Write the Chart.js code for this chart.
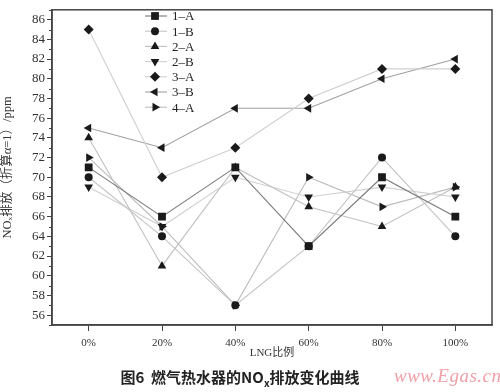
<!DOCTYPE html>
<html>
<head>
<meta charset="utf-8">
<script src="https://cdn.jsdelivr.net/npm/chart.js@4/dist/chart.umd.min.js"></script>
<style>
  body { margin: 0; background: #fff; }
  #wrap { position: relative; width: 500px; height: 392px; }
  #caption { position: absolute; left: 0; width: 480px; top: 366px; text-align: center;
    font: bold 15px "Noto Sans CJK SC", "Noto Sans", sans-serif; color: #222; }
  #caption sub { font-size: 10px; }
  #mark { position: absolute; left: 394px; top: 365px; font: italic 19px "Liberation Serif", serif;
    color: #f0a0a8; letter-spacing: 0.5px; }
</style>
</head>
<body>
<div id="wrap">
  <canvas id="chart" width="500" height="392"></canvas>
  <div id="caption">图6&nbsp; 燃气热水器的NO<sub>x</sub>排放变化曲线</div>
  <div id="mark">www.Egas.cn</div>
</div>
<script>
const labels = ['0%', '20%', '40%', '60%', '80%', '100%']

const s1A = [71, 66, 71, 63, 70, 66]
const s1B = [70, 64, 57, 63, 72, 64]
const s2A = [74, 61, 71, 67, 65, 69]
const s2B = [69, 65, 70, 68, 69, 68]
const s3A = [85, 70, 73, 78, 81, 81]
const s3B = [75, 73, 77, 77, 80, 82]
const s4A = [72, 65, 57, 70, 67, 69]

const yTicks = [56, 58, 60, 62, 64, 66, 68, 70, 72, 74, 76, 78, 80, 82, 84, 86]

const serif = '"Liberation Serif", "Noto Sans CJK SC", serif'

function series(label, data, color, pointStyle, rotation, radius) {
    return {
        label, data,
        borderColor: color,
        borderWidth: 1.1,
        backgroundColor: '#1a1a1a',
        pointBackgroundColor: '#1a1a1a',
        pointBorderColor: '#1a1a1a',
        pointBorderWidth: 0,
        pointStyle,
        pointRotation: rotation,
        pointRadius: radius,
        tension: 0
    }
}

const datasets = [
    series('1–A', s1A, '#7a7a7a', 'rect', 0, 5.5),
    series('1–B', s1B, '#c4c4c4', 'circle', 0, 4),
    series('2–A', s2A, '#c0c0c0', 'triangle', 0, 5),
    series('2–B', s2B, '#d0d0d0', 'triangle', 180, 5),
    series('3–A', s3A, '#cfcfcf', 'rectRot', 0, 5),
    series('3–B', s3B, '#a0a0a0', 'triangle', 270, 5),
    series('4–A', s4A, '#bcbcbc', 'triangle', 90, 5)
]

// frame, minor ticks and the inside legend
const extras = {
    id: 'extras',
    afterDraw(chart) {
        const { ctx, chartArea: a, scales } = chart
        ctx.save()
        ctx.strokeStyle = '#444'
        ctx.lineWidth = 1.5
        ctx.strokeRect(a.left, a.top, a.right - a.left, a.bottom - a.top)

        ctx.lineWidth = 1
        ctx.beginPath()
        for (let v = 55; v <= 87; v++) {
            if (v % 2 === 0) continue
            const y = Math.round(scales.y.getPixelForValue(v)) + 0.5
            ctx.moveTo(a.left - 3, y)
            ctx.lineTo(a.left, y)
        }
        ctx.stroke()

        // legend
        const lx = 145, ly = 16, step = 15.2
        chart.data.datasets.forEach((ds, i) => {
            const y = ly + i * step
            ctx.strokeStyle = ds.borderColor
            ctx.lineWidth = 1.1
            ctx.beginPath()
            ctx.moveTo(lx, y)
            ctx.lineTo(lx + 22, y)
            ctx.stroke()
            ctx.fillStyle = '#1a1a1a'
            ctx.strokeStyle = '#1a1a1a'
            Chart.helpers.drawPoint(ctx, {
                pointStyle: ds.pointStyle,
                radius: ds.pointRadius,
                rotation: ds.pointRotation,
                borderWidth: 0
            }, lx + 10, y)
            ctx.fillStyle = '#222'
            ctx.font = '13px ' + serif
            ctx.textBaseline = 'middle'
            ctx.fillText(ds.label, lx + 27, y + 1)
        })
        ctx.restore()
    }
}

new Chart('chart', {
    type: 'line',
    data: { labels, datasets },
    plugins: [extras],
    options: {
        responsive: false,
        animation: false,
        layout: { padding: { top: 4, right: 8, bottom: 32, left: 0 } },
        plugins: { legend: { display: false }, tooltip: { enabled: false } },
        scales: {
            x: {
                offset: true,
                border: { color: '#444', width: 1.5 },
                grid: { drawOnChartArea: false, tickLength: 6, tickColor: '#444', offset: false },
                ticks: { color: '#333', font: { family: serif, size: 11 }, padding: 6 },
                title: { display: true, text: 'LNG比例', color: '#333',
                    font: { family: serif, size: 11 }, padding: { top: 2, bottom: 0 } },
                afterFit(scale) { scale.height = 35 }
            },
            y: {
                min: 55, max: 87,
                afterBuildTicks(scale) { scale.ticks = yTicks.map(v => ({ value: v })) },
                border: { color: '#444', width: 1.5 },
                grid: { drawOnChartArea: false, tickLength: 5, tickColor: '#444' },
                ticks: { color: '#333', font: { family: serif, size: 13 }, padding: 2 },
                title: { display: true, text: 'NOₓ排放（折算α=1）/ppm', color: '#333',
                    font: { family: serif, size: 12.5 }, padding: { top: 0, bottom: 3 } },
                afterFit(scale) { scale.width = 52 }
            }
        }
    }
})
</script>
</body>
</html>
